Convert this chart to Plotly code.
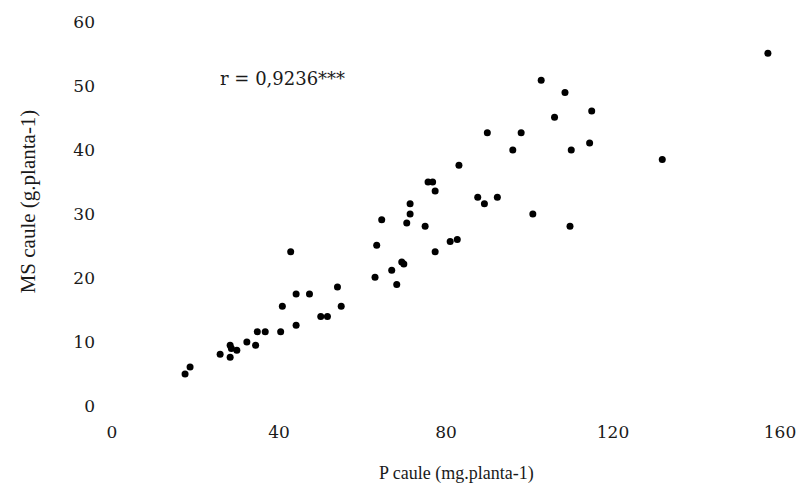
import plotly.graph_objects as go

# P caule (mg.planta-1)
p_caule = [17.5, 18.7, 25.9, 28.3, 28.3, 28.6, 29.9, 32.3, 34.4, 34.8,
           36.7, 40.4, 40.8, 42.8, 44.1, 44.1, 47.3, 50.0, 51.6, 54.0,
           54.9, 63.0, 63.4, 64.6, 67.0, 68.2, 69.4, 69.9, 70.6, 71.4,
           71.4, 75.0, 75.7, 76.8, 77.4, 77.4, 81.0, 82.7, 83.1, 87.6,
           89.2, 89.9, 92.3, 96.0, 98.0, 100.8, 102.8, 106.0, 108.5, 109.7,
           110.0, 114.4, 114.9, 131.8, 157.1]
# MS caule (g.planta-1)
ms_caule = [5.0, 6.1, 8.1, 7.6, 9.5, 9.0, 8.7, 10.0, 9.5, 11.6,
            11.6, 11.6, 15.6, 24.1, 17.5, 12.6, 17.5, 14.0, 14.0, 18.6,
            15.6, 20.1, 25.1, 29.1, 21.2, 19.0, 22.5, 22.2, 28.6, 30.0,
            31.6, 28.1, 35.0, 35.0, 33.6, 24.1, 25.7, 26.0, 37.6, 32.6,
            31.6, 42.7, 32.6, 40.0, 42.7, 30.0, 50.9, 45.1, 49.0, 28.1,
            40.0, 41.1, 46.1, 38.5, 55.1]

x_ticks = [0, 40, 80, 120, 160]
y_ticks = [0, 10, 20, 30, 40, 50, 60]

FONT = "DejaVu Serif"
TFONT = "Liberation Serif"

fig = go.Figure(go.Scatter(
    x=p_caule, y=ms_caule, mode="markers",
    marker=dict(color="black", size=7, line=dict(width=0)),
    showlegend=False,
))

fig.update_layout(
    width=808, height=492,
    margin=dict(l=112, r=18, t=20, b=86),
    paper_bgcolor="white", plot_bgcolor="white",
    font=dict(family=FONT, size=17, color="#1a1a1a"),
    xaxis=dict(range=[0, 160], tickvals=x_ticks, showgrid=False, zeroline=False,
               showline=False, ticks="", ticklabelstandoff=14,
               tickfont=dict(family=FONT, size=17)),
    yaxis=dict(range=[0, 60], tickvals=y_ticks, showgrid=False, zeroline=False,
               showline=False, ticks="", ticklabelstandoff=16,
               tickfont=dict(family=FONT, size=17)),
    annotations=[
        dict(text="r = 0,9236***", x=(220 - 112) / 678, y=(406 - 77) / 386,
             xref="paper", yref="paper", xanchor="left", yanchor="middle",
             showarrow=False, font=dict(family=FONT, size=18)),
        dict(text="P caule (mg.planta-1)", x=(462 - 112) / 678, y=(406 - 474) / 386,
             xref="paper", yref="paper", xanchor="center", yanchor="middle",
             showarrow=False, font=dict(family=TFONT, size=18)),
        dict(text="MS caule (g.planta-1)", x=(27 - 112) / 678, y=(406 - 200) / 386,
             xref="paper", yref="paper", xanchor="center", yanchor="middle",
             textangle=-90, showarrow=False, font=dict(family=TFONT, size=21)),
    ],
)

fig.write_html("out.html")
